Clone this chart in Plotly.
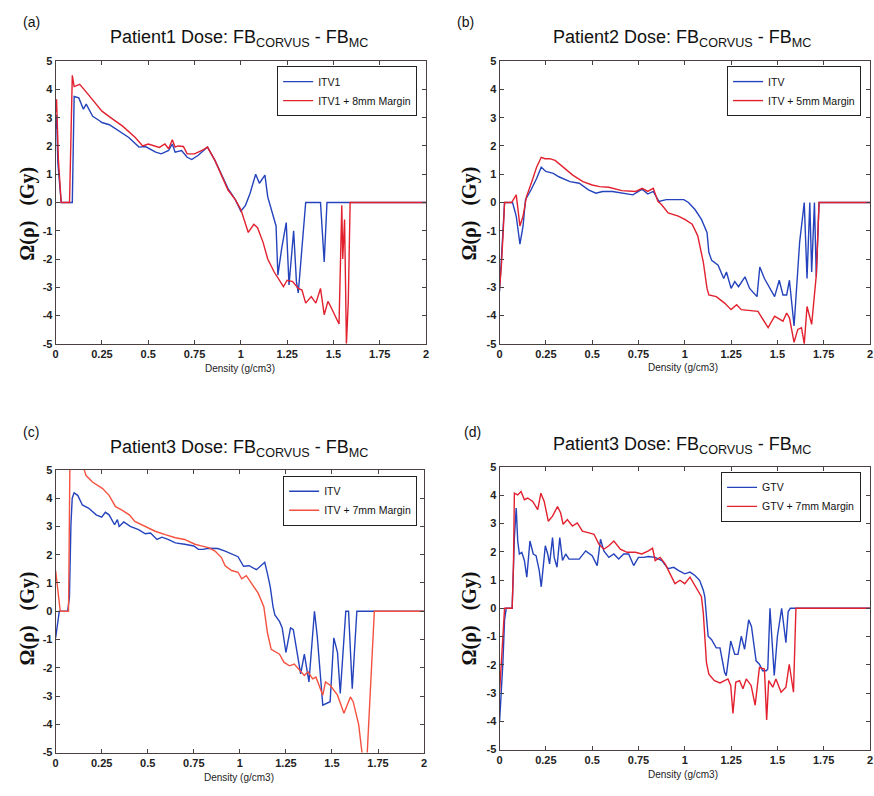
import plotly.graph_objects as go

# ---------------- data ----------------
a_itv_x = [0, 0.005, 0.012, 0.02, 0.03, 0.09, 0.095, 0.1, 0.125, 0.15, 0.165, 0.2, 0.235, 0.25, 0.29, 0.34, 0.395, 0.45, 0.485, 0.54, 0.57, 0.61, 0.63, 0.645, 0.68, 0.71, 0.735, 0.77, 0.82, 0.86, 0.895, 0.93, 0.97, 1.0, 1.025, 1.05, 1.08, 1.1, 1.13, 1.145, 1.17, 1.19, 1.2, 1.22, 1.245, 1.26, 1.285, 1.3, 1.31, 1.33, 1.35, 1.43, 1.45, 1.465, 2.0]
a_itv_y = [2.6, 3.1, 1.4, 0.6, 0, 0, 2.5, 3.75, 3.7, 3.3, 3.48, 3.05, 2.9, 2.83, 2.75, 2.54, 2.3, 1.96, 1.98, 1.78, 1.72, 1.84, 2.07, 1.78, 1.84, 1.6, 1.52, 1.67, 1.96, 1.49, 0.97, 0.5, 0.1, -0.31, -0.1, 0.33, 1.0, 0.68, 0.97, 0.2, -0.37, -0.83, -2.57, -1.64, -0.71, -2.92, -1.0, -2.8, -3.2, -1.64, 0, 0, -2.1, 0, 0]
a_mrg_x = [0, 0.005, 0.015, 0.03, 0.075, 0.082, 0.09, 0.1, 0.13, 0.17, 0.22, 0.25, 0.31, 0.36, 0.43, 0.47, 0.5, 0.56, 0.59, 0.61, 0.63, 0.645, 0.66, 0.69, 0.71, 0.75, 0.79, 0.82, 0.86, 0.895, 0.93, 0.97, 1.0, 1.04, 1.07, 1.09, 1.12, 1.145, 1.18, 1.23, 1.25, 1.28, 1.31, 1.33, 1.35, 1.38, 1.405, 1.43, 1.45, 1.47, 1.485, 1.53, 1.545, 1.55, 1.56, 1.57, 1.58, 1.59, 2.0]
a_mrg_y = [3.2, 3.65, 1.5, 0, 0, 1.8, 4.5, 4.1, 4.18, 3.87, 3.47, 3.23, 2.94, 2.71, 2.3, 2.0, 2.07, 1.95, 2.07, 1.9, 2.22, 1.96, 2.0, 1.98, 1.72, 1.72, 1.84, 1.96, 1.49, 0.95, 0.45, 0.1, -0.25, -1.06, -0.77, -0.89, -1.41, -2.0, -2.46, -2.98, -2.75, -2.8, -3.04, -3.1, -3.56, -3.33, -3.56, -3.04, -3.97, -3.5, -3.68, -4.3, -0.1, -2.0, -0.6, -5.0, -3.5, 0, 0]

b_itv_x = [0, 0.01, 0.02, 0.027, 0.07, 0.09, 0.11, 0.127, 0.14, 0.155, 0.17, 0.2, 0.225, 0.25, 0.29, 0.32, 0.38, 0.43, 0.48, 0.52, 0.556, 0.61, 0.66, 0.72, 0.77, 0.8, 0.83, 0.86, 0.9, 0.95, 0.995, 1.02, 1.055, 1.09, 1.12, 1.13, 1.145, 1.18, 1.21, 1.225, 1.25, 1.27, 1.29, 1.325, 1.35, 1.39, 1.405, 1.43, 1.485, 1.51, 1.53, 1.55, 1.565, 1.59, 1.62, 1.645, 1.66, 1.675, 1.685, 1.7, 1.71, 1.725, 2.0]
b_itv_y = [-3.15, -2.0, -1.06, 0, 0, -0.48, -1.47, -0.83, 0.1, 0.27, 0.45, 0.85, 1.25, 1.1, 1.03, 0.91, 0.74, 0.68, 0.45, 0.33, 0.39, 0.39, 0.33, 0.27, 0.47, 0.3, 0.39, 0.04, 0.1, 0.1, 0.1, 0, -0.25, -0.6, -1.06, -1.76, -2.05, -2.22, -2.69, -2.46, -3.04, -2.8, -2.98, -2.63, -3.04, -3.33, -2.28, -2.69, -3.33, -2.75, -3.27, -3.27, -2.75, -4.37, -1.41, 0, -2.69, 0, -2.46, 0, -2.63, 0, 0]
b_mrg_x = [0, 0.01, 0.02, 0.027, 0.065, 0.09, 0.11, 0.127, 0.145, 0.16, 0.18, 0.2, 0.225, 0.245, 0.27, 0.3, 0.34, 0.395, 0.45, 0.5, 0.54, 0.59, 0.66, 0.735, 0.77, 0.8, 0.83, 0.855, 0.875, 0.91, 0.965, 1.0, 1.04, 1.07, 1.1, 1.12, 1.13, 1.17, 1.215, 1.25, 1.28, 1.305, 1.395, 1.45, 1.485, 1.53, 1.55, 1.565, 1.59, 1.61, 1.63, 1.645, 1.66, 1.685, 1.71, 1.725, 2.0]
b_mrg_y = [-3.04, -2.22, -0.99, 0, 0, 0.27, -0.83, -0.48, 0.2, 0.45, 0.85, 1.25, 1.6, 1.55, 1.55, 1.49, 1.26, 0.97, 0.74, 0.62, 0.56, 0.54, 0.42, 0.39, 0.5, 0.39, 0.5, 0.04, -0.08, -0.37, -0.48, -0.6, -0.77, -1.18, -2.11, -3.04, -3.27, -3.33, -3.56, -3.79, -3.62, -3.79, -3.85, -4.43, -4.02, -4.2, -3.91, -4.08, -4.95, -4.49, -4.43, -5.0, -3.68, -4.31, -2.57, 0, 0]

c_itv_x = [0, 0.02, 0.065, 0.075, 0.083, 0.09, 0.1, 0.12, 0.145, 0.18, 0.22, 0.25, 0.27, 0.29, 0.32, 0.335, 0.345, 0.37, 0.405, 0.45, 0.487, 0.515, 0.55, 0.577, 0.61, 0.65, 0.7, 0.75, 0.775, 0.8, 0.83, 0.88, 0.92, 0.955, 0.99, 1.02, 1.05, 1.09, 1.105, 1.135, 1.15, 1.165, 1.18, 1.19, 1.215, 1.23, 1.25, 1.275, 1.29, 1.31, 1.33, 1.35, 1.375, 1.405, 1.42, 1.45, 1.49, 1.51, 1.53, 1.545, 1.575, 1.59, 1.61, 1.635, 2.0]
c_itv_y = [-0.94, 0, 0, 0.5, 3.06, 4.0, 4.19, 4.1, 3.76, 3.64, 3.41, 3.33, 3.5, 3.41, 3.06, 3.24, 3.0, 3.16, 3.0, 2.89, 2.74, 2.77, 2.54, 2.62, 2.54, 2.42, 2.37, 2.31, 2.19, 2.19, 2.23, 2.22, 2.13, 2.02, 1.93, 1.59, 1.61, 1.47, 1.55, 1.73, 1.32, 0.86, 0.16, -0.13, -0.36, -0.59, -1.46, -0.59, -0.65, -1.52, -2.22, -1.52, -2.5, 0, -0.88, -3.32, -3.2, -0.94, -1.46, -2.91, 0, 0, -2.74, 0, 0]
c_mrg_x = [0, 0.01, 0.025, 0.07, 0.078, 0.155, 0.165, 0.2, 0.255, 0.29, 0.325, 0.36, 0.4, 0.43, 0.487, 0.54, 0.595, 0.65, 0.7, 0.756, 0.79, 0.83, 0.865, 0.9, 0.92, 0.955, 0.99, 1.01, 1.035, 1.06, 1.1, 1.13, 1.15, 1.17, 1.215, 1.24, 1.27, 1.295, 1.32, 1.35, 1.37, 1.395, 1.413, 1.45, 1.465, 1.49, 1.53, 1.565, 1.6, 1.615, 1.645, 1.67, 1.69, 1.71, 1.73, 2.0]
c_mrg_y = [1.44, 0.86, 0, 0, 5.6, 5.0, 4.8, 4.57, 4.34, 4.1, 3.7, 3.58, 3.41, 3.18, 3.0, 2.83, 2.71, 2.6, 2.54, 2.37, 2.31, 2.25, 2.13, 1.9, 1.61, 1.44, 1.38, 1.15, 1.26, 1.03, 0.63, 0.16, -0.77, -1.35, -1.52, -1.81, -1.93, -1.87, -2.04, -2.27, -2.14, -2.39, -2.33, -2.97, -2.5, -2.62, -2.97, -3.61, -3.03, -3.2, -4.01, -5.4, -5.2, -2.6, 0, 0]

d_gtv_x = [0, 0.009, 0.018, 0.027, 0.036, 0.068, 0.075, 0.08, 0.09, 0.098, 0.107, 0.12, 0.134, 0.147, 0.164, 0.182, 0.197, 0.214, 0.225, 0.236, 0.247, 0.26, 0.27, 0.286, 0.295, 0.31, 0.325, 0.34, 0.357, 0.375, 0.43, 0.465, 0.5, 0.527, 0.545, 0.563, 0.59, 0.617, 0.643, 0.67, 0.697, 0.724, 0.75, 0.777, 0.804, 0.84, 0.876, 0.91, 0.94, 0.965, 1.0, 1.028, 1.055, 1.08, 1.1, 1.108, 1.117, 1.126, 1.144, 1.17, 1.19, 1.215, 1.224, 1.248, 1.27, 1.287, 1.305, 1.323, 1.345, 1.36, 1.385, 1.403, 1.42, 1.44, 1.448, 1.46, 1.483, 1.5, 1.523, 1.537, 1.546, 1.558, 1.57, 2.0]
d_gtv_y = [-4.01, -2.97, -1.92, -0.41, 0, 0, 1.45, 2.5, 3.55, 2.38, 1.92, 1.98, 1.69, 1.1, 2.38, 1.92, 1.86, 1.34, 0.76, 1.57, 2.21, 1.92, 1.57, 2.5, 1.8, 1.45, 2.5, 1.69, 1.92, 1.74, 1.74, 2.03, 1.86, 1.51, 2.44, 2.03, 1.8, 1.92, 1.74, 1.92, 1.92, 1.51, 1.8, 1.8, 1.83, 1.8, 1.69, 1.4, 1.45, 1.34, 1.22, 1.28, 1.16, 0.99, 0.64, 0.41, -0.17, -0.99, -1.1, -1.4, -1.4, -2.27, -2.38, -1.16, -1.63, -1.63, -0.99, -1.45, -0.41, -0.64, -1.86, -1.98, -2.21, -2.21, -2.15, 0, -2.38, -0.99, 0, -0.87, -1.22, -0.12, 0, 0]
d_mrg_x = [0, 0.009, 0.018, 0.027, 0.068, 0.075, 0.08, 0.098, 0.116, 0.134, 0.152, 0.179, 0.206, 0.223, 0.241, 0.263, 0.286, 0.313, 0.33, 0.343, 0.366, 0.393, 0.42, 0.447, 0.483, 0.51, 0.536, 0.563, 0.59, 0.617, 0.652, 0.688, 0.733, 0.768, 0.804, 0.826, 0.84, 0.867, 0.894, 0.92, 0.947, 0.974, 1.0, 1.028, 1.05, 1.072, 1.09, 1.1, 1.108, 1.117, 1.13, 1.16, 1.19, 1.215, 1.233, 1.248, 1.26, 1.275, 1.296, 1.314, 1.332, 1.358, 1.38, 1.403, 1.43, 1.442, 1.453, 1.475, 1.492, 1.52, 1.546, 1.564, 1.587, 1.6, 2.0]
d_mrg_y = [-2.97, -2.03, -0.87, 0, 0, 1.5, 4.07, 4.01, 4.13, 3.84, 3.9, 3.78, 3.49, 4.07, 3.78, 3.08, 3.26, 3.6, 3.37, 2.97, 3.14, 2.91, 3.02, 2.73, 2.67, 2.62, 2.27, 2.09, 2.21, 2.38, 2.09, 1.98, 1.98, 1.92, 2.03, 2.13, 1.69, 1.8, 1.57, 1.22, 0.87, 0.99, 0.87, 1.1, 0.87, 0.64, 0.41, -0.17, -0.99, -1.92, -2.33, -2.56, -2.64, -2.56, -2.5, -2.73, -3.72, -2.62, -2.56, -2.85, -2.5, -2.73, -3.43, -2.09, -2.15, -3.95, -2.56, -2.79, -2.5, -2.97, -2.79, -1.98, -2.97, 0, 0]

x_ticks = [0, 0.25, 0.5, 0.75, 1, 1.25, 1.5, 1.75, 2]
x_tick_labels = ["0", "0.25", "0.5", "0.75", "1", "1.25", "1.5", "1.75", "2"]
y_ticks = [-5, -4, -3, -2, -1, 0, 1, 2, 3, 4, 5]
y_tick_labels = ["-5", "-4", "-3", "-2", "-1", "0", "1", "2", "3", "4", "5"]

panel_tags = ["(a)", "(b)", "(c)", "(d)"]
patients = ["Patient1", "Patient2", "Patient3", "Patient3"]
names_plain = ["ITV1", "ITV", "ITV", "GTV"]
names_margin = ["ITV1 + 8mm Margin", "ITV + 5mm Margin", "ITV + 7mm Margin", "GTV + 7mm Margin"]
x_label = "Density (g/cm3)"
y_label = "Ω(ρ)   (Gy)"

series = [
    (a_itv_x, a_itv_y, a_mrg_x, a_mrg_y),
    (b_itv_x, b_itv_y, b_mrg_x, b_mrg_y),
    (c_itv_x, c_itv_y, c_mrg_x, c_mrg_y),
    (d_gtv_x, d_gtv_y, d_mrg_x, d_mrg_y),
]

# ---------------- layout geometry (pixels) ----------------
W, H = 874, 796
def px(x):
    return x / W
def py(y):
    return 1 - y / H

# left, right, top, bottom
boxes = [
    (53, 426, 56, 343),
    (500, 873, 56, 343),
    (53, 424, 471, 758),
    (500, 873, 468, 755),
]
legend_pos = [(417, 61), (864, 61), (417, 477), (864, 473)]
tag_pos = [(18, 16), (455, 16), (18, 433), (462, 433)]
title_pos = [(238, 33), (684, 33), (238, 449), (684, 446)]
ylab_pos = [(25, 211), (470, 211), (25, 622), (470, 622)]
xlab_pos = [(239, 368), (685, 367), (238, 783), (685, 780)]

blue = "#2443bd"
reds = ["#e2202e", "#e2202e", "#f4513f", "#e2202e"]
axcol = "#4a4040"

fig = go.Figure()
layout = dict(
    width=W, height=H, margin=dict(l=0, r=0, t=0, b=0),
    paper_bgcolor="white", plot_bgcolor="white",
    font=dict(family="Liberation Sans, Arial", color="#222"),
    showlegend=True,
)
annotations = []

for i in range(4):
    sfx = "" if i == 0 else str(i + 1)
    l, r, t, b = boxes[i]
    xs, ys, xm, ym = series[i]
    leg = "legend" if i == 0 else "legend" + str(i + 1)
    fig.add_trace(go.Scatter(x=xs, y=ys, mode="lines", name=names_plain[i],
                             line=dict(color=blue, width=1.4),
                             xaxis="x" + sfx, yaxis="y" + sfx, legend=leg))
    fig.add_trace(go.Scatter(x=xm, y=ym, mode="lines", name=names_margin[i],
                             line=dict(color=reds[i], width=1.4),
                             xaxis="x" + sfx, yaxis="y" + sfx, legend=leg))
    common = dict(showgrid=False, zeroline=False, showline=True, linecolor=axcol,
                  linewidth=1, mirror="allticks", ticks="inside", ticklen=4,
                  tickcolor=axcol, tickfont=dict(size=11, color="#222", weight="bold"))
    layout["xaxis" + sfx] = dict(domain=[px(l), px(r)], range=[0, 2], anchor="y" + sfx,
                                 tickvals=x_ticks, ticktext=x_tick_labels, **common)
    layout["yaxis" + sfx] = dict(domain=[py(b), py(t)], range=[-5, 5], anchor="x" + sfx,
                                 tickvals=y_ticks, ticktext=y_tick_labels, **common)
    lx, ly = legend_pos[i]
    layout[leg] = dict(x=px(lx), y=py(ly), xanchor="right", yanchor="top",
                       bordercolor="#222", borderwidth=1, bgcolor="white",
                       font=dict(size=10.5, color="#111"), itemwidth=30, tracegroupgap=0)
    tx, ty = tag_pos[i]
    annotations.append(dict(text=panel_tags[i], x=px(tx), y=py(ty), xref="paper", yref="paper",
                            showarrow=False, font=dict(size=14, color="#111"),
                            xanchor="left", yanchor="middle"))
    tx, ty = title_pos[i]
    annotations.append(dict(text=patients[i] + " Dose: FB<sub>CORVUS</sub> - FB<sub>MC</sub>",
                            x=px(tx), y=py(ty), xref="paper", yref="paper", showarrow=False,
                            font=dict(size=18, color="#111"), xanchor="center", yanchor="middle"))
    tx, ty = ylab_pos[i]
    annotations.append(dict(text=y_label, x=px(tx), y=py(ty), xref="paper", yref="paper",
                            showarrow=False, textangle=-90,
                            font=dict(size=20, color="#111", family="Liberation Serif", weight="bold"),
                            xanchor="center", yanchor="middle"))
    tx, ty = xlab_pos[i]
    annotations.append(dict(text=x_label, x=px(tx), y=py(ty), xref="paper", yref="paper",
                            showarrow=False, font=dict(size=10, color="#222"),
                            xanchor="center", yanchor="middle"))

layout["annotations"] = annotations
fig.update_layout(**layout)
fig.write_html("out.html")
